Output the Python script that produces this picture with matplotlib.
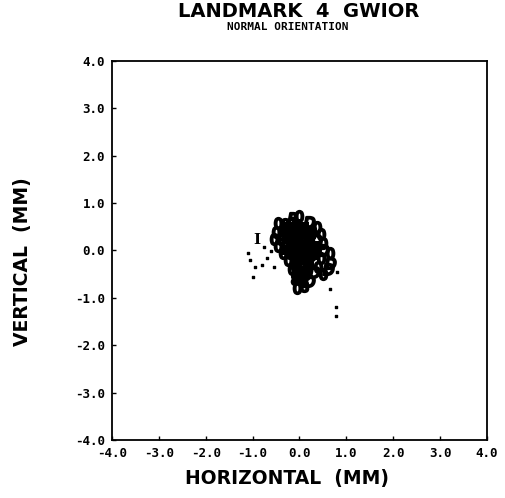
import matplotlib
matplotlib.use("Agg")
import matplotlib.pyplot as plt

title = "LANDMARK  4  GWIOR"
subtitle = "NORMAL ORIENTATION"
x_label = "HORIZONTAL  (MM)"
y_label = "VERTICAL  (MM)"
tick_values = [-4.0, -3.0, -2.0, -1.0, 0.0, 1.0, 2.0, 3.0, 4.0]

# landmark positions (mm), with the glyph used for each
pt_x = [-0.16, 0.0, -0.45, -0.3, 0.2, 0.38, -0.5, -0.35, -0.2, -0.05,
        0.1, 0.25, 0.45, -0.55, -0.4, -0.25, -0.1, 0.05, 0.2, 0.35,
        0.5, -0.45, -0.3, -0.15, 0.0, 0.15, 0.3, 0.5, 0.65, -0.35,
        -0.2, -0.05, 0.1, 0.25, 0.45, 0.65, -0.25, -0.1, 0.05, 0.2,
        0.4, 0.6, -0.15, 0.0, 0.15, 0.3, 0.5, -0.1, 0.05, 0.2,
        -0.05, 0.1, -0.03, 0.0, 0.1, -0.1]
pt_y = [0.69, 0.72, 0.58, 0.55, 0.6, 0.5, 0.4, 0.42, 0.45, 0.5,
        0.45, 0.4, 0.35, 0.25, 0.25, 0.28, 0.3, 0.3, 0.25, 0.22,
        0.15, 0.1, 0.1, 0.12, 0.15, 0.1, 0.05, 0.0, -0.05, -0.05,
        -0.05, -0.05, -0.1, -0.1, -0.15, -0.26, -0.2, -0.25, -0.25, -0.3,
        -0.35, -0.4, -0.4, -0.45, -0.5, -0.45, -0.5, -0.6, -0.6, -0.65,
        -0.8, -0.75, 0.05, -0.15, 0.2, -0.3]
pt_mark = ["R", "0", "0", "8", "D", "0", "0", "8", "D", "8",
           "0", "B", "0", "0", "8", "D", "0", "8", "0", "D",
           "0", "0", "8", "D", "0", "8", "0", "D", "0", "0",
           "8", "D", "0", "8", "0", "D", "0", "8", "D", "0",
           "0", "D", "0", "8", "0", "D", "0", "8", "0", "D",
           "0", "8", "8", "D", "0", "8"]

# solid ink in the middle of the cluster
core_x = [-0.2, -0.05, 0.1, 0.25, -0.25, -0.1, 0.05, 0.2, 0.3, -0.15,
          0.0, 0.15, 0.3, -0.1, 0.05, 0.2, -0.05, 0.1, 0.0, -0.3]
core_y = [0.5, 0.55, 0.5, 0.35, 0.3, 0.35, 0.35, 0.2, 0.1, 0.15,
          0.1, 0.0, -0.1, -0.1, -0.2, -0.3, -0.4, -0.45, -0.6, 0.0]

# sparse faint marks outside the cluster
sp_x = [-1.1, -1.05, -0.95, -0.8, -0.7, -0.75, -1.0, -0.55, -0.6,
        0.65, 0.78, 0.78, 0.8]
sp_y = [-0.05, -0.2, -0.35, -0.3, -0.15, 0.08, -0.56, -0.35, -0.02,
        -0.82, -1.19, -1.38, -0.45]
label_i = (-0.91, 0.22)

plt.rcParams["font.family"] = ["DejaVu Sans Mono"]

fig = plt.figure(figsize=(5.06, 4.98), dpi=100)
ax = fig.add_axes([0.2213, 0.1165, 0.741, 0.761])

ax.scatter(core_x, core_y, marker="s", s=45, color="black", linewidths=0)
for x, y, m in zip(pt_x, pt_y, pt_mark):
    ax.scatter(x, y, marker=f"${m}$", s=60, color="black", linewidths=1.8)
ax.scatter(sp_x, sp_y, marker="s", s=4, color="black")
ax.text(label_i[0], label_i[1], "I", ha="center", va="center",
        fontsize=11, fontweight="bold", family="DejaVu Serif")

ax.set_xlim(-4, 4)
ax.set_ylim(-4, 4)
ax.set_xticks(tick_values)
ax.set_yticks(tick_values)
ax.set_xticklabels([f"{v:.1f}" for v in tick_values], fontsize=9, fontweight="bold")
ax.set_yticklabels([f"{v:.1f}" for v in tick_values], fontsize=9, fontweight="bold")
ax.tick_params(direction="in", length=3, width=1, pad=5)
for s in ax.spines.values():
    s.set_linewidth(1.3)

fig.text(0.59, 0.977, title, ha="center", va="center", fontsize=14,
         fontweight="bold", family="DejaVu Sans")
fig.text(0.568, 0.946, subtitle, ha="center", va="center", fontsize=8,
         fontweight="bold")
fig.text(0.568, 0.04, x_label, ha="center", va="center", fontsize=13.5,
         fontweight="bold", family="DejaVu Sans")
fig.text(0.044, 0.475, y_label, ha="center", va="center", fontsize=13.5,
         fontweight="bold", family="DejaVu Sans", rotation=90)

fig.savefig("out.png", dpi=100)
